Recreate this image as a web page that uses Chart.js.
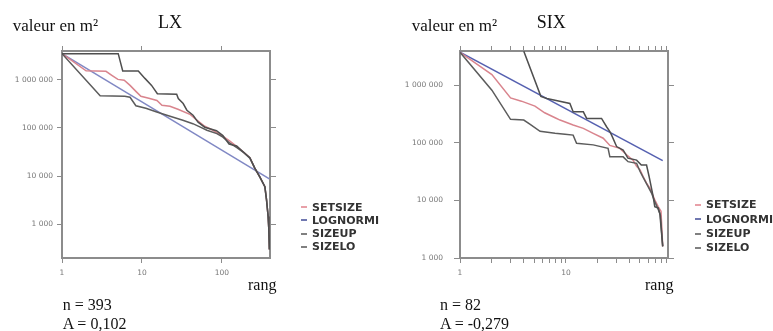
<!DOCTYPE html>
<html><head><meta charset="utf-8">
<script src="https://cdn.jsdelivr.net/npm/chart.js@4.4.0/dist/chart.umd.min.js"></script>
<style>
html,body{margin:0;padding:0;background:#fff;width:773px;height:331px;overflow:hidden;position:relative;}
canvas{position:absolute;top:0;}
.t{position:absolute;font-family:"Liberation Serif","Times New Roman",serif;font-size:16px;line-height:16px;color:#111;white-space:nowrap;}
.ttl{font-size:18px;line-height:18px;}
.big{font-size:17px;line-height:17px;}
.lg{position:absolute;font-family:"DejaVu Sans",sans-serif;font-weight:bold;font-size:11px;line-height:12px;color:#333;white-space:nowrap;}
.d{position:absolute;width:6px;height:2px;}
</style>
</head><body>
<canvas id="c1" width="390" height="331" style="left:0"></canvas>
<canvas id="c2" width="383" height="331" style="left:390px"></canvas>
<div id="txt"></div>
<script>
// ---------- DATA (rank, value in m²) ----------
const seriesNames = ['SETSIZE', 'LOGNORMI', 'SIZEUP', 'SIZELO'];

// LX panel (n = 393)
const lxSetsize = [[1,3.45e6],[2,1.52e6],[3.55,1.49e6],[4.2,1.23e6],[5,1.01e6],[6,9.7e5],[7.1,7.6e5],[8.4,5.7e5],[9.7,4.5e5],[12.2,4.1e5],[15.4,3.7e5],[17.8,2.94e5],[22.4,2.8e5],[28.2,2.43e5],[39.8,1.91e5],[48.7,1.44e5],[61,1.08e5],[77,8.9e4],[100,6.9e4],[126,5.3e4],[154,4.1e4],[188,3.1e4],[224,2.4e4],[258,1.46e4],[298,9.6e3],[345,6.0e3],[362,3.2e3],[379,1.45e3],[387,770],[390,480],[393,300]];
const lxLognorm = [[1,3.45e6],[393,8.7e3]];
const lxSizeup  = [[1,3.45e6],[5.05,3.45e6],[5.75,1.51e6],[9,1.51e6],[10.9,1.06e6],[13.2,7.6e5],[15.6,5.1e5],[27.2,4.97e5],[28.5,4.05e5],[32.8,3.19e5],[36.5,2.32e5],[43.6,1.82e5],[50.4,1.31e5],[61,1.03e5],[85.6,8.7e4],[103,6.9e4],[123,4.6e4],[153,4.2e4],[184,3.2e4],[224,2.4e4],[258,1.46e4],[298,9.6e3],[345,6.0e3],[362,3.2e3],[379,1.45e3],[387,770],[390,480],[393,300]];
const lxSizelo  = [[1,3.45e6],[3,4.62e5],[6.1,4.51e5],[7.1,4.3e5],[8.4,2.87e5],[11.2,2.55e5],[15,2.16e5],[20.5,1.83e5],[32.5,1.44e5],[43.3,1.22e5],[53,1.05e5],[65,8.9e4],[86.6,7.6e4],[103,6.4e4],[126,4.8e4],[154,3.88e4],[188,3.06e4],[224,2.35e4],[258,1.46e4],[298,9.6e3],[345,6.0e3],[362,3.2e3],[379,1.45e3],[387,770],[390,480],[393,300]];

// SIX panel (n = 82)
const sixSetsize = [[1,3.73e6],[2,1.53e6],[3,6.0e5],[3.8,5.28e5],[5.1,4.34e5],[6.3,3.32e5],[7.9,2.72e5],[8.8,2.48e5],[11.7,2.03e5],[14.6,1.78e5],[18.1,1.46e5],[22.5,1.2e5],[26,9.0e4],[32.3,8.0e4],[37.4,6.2e4],[43,5.0e4],[46.5,3.9e4],[50,3.4e4],[53.6,2.6e4],[57.7,2.0e4],[62,1.63e4],[69,1.02e4],[74.3,7.8e3],[79,6.5e3],[82,1.59e3]];
const sixLognorm = [[1,3.73e6],[82,4.9e4]];
const sixSizeup  = [[4,3.9e6],[5.8,6.4e5],[6.6,5.89e5],[7.5,5.6e5],[10.9,4.82e5],[11.7,3.45e5],[14.6,3.45e5],[15.7,2.65e5],[21.7,2.65e5],[24.2,1.9e5],[26,1.56e5],[27,1.36e5],[30.1,8.6e4],[34.7,7.5e4],[38.5,5.4e4],[46.5,5.0e4],[51.5,4.1e4],[57.7,4.1e4],[61,2.6e4],[66.6,1.17e4],[69,7.8e3],[74.3,7.4e3],[77,6.0e3],[82,1.59e3]];
const sixSizelo  = [[1,3.73e6],[2,8.2e5],[3,2.55e5],[4,2.48e5],[4.6,2.09e5],[5.7,1.58e5],[7.9,1.46e5],[9.8,1.4e5],[11.7,1.36e5],[12.6,9.8e4],[18.1,9.2e4],[25,8.0e4],[26,5.7e4],[34.7,5.7e4],[38.6,4.7e4],[46.5,4.4e4],[50,3.2e4],[53.6,2.5e4],[59.7,1.74e4],[64.3,1.34e4],[69,9.5e3],[74.3,7.0e3],[78,5.5e3],[82,1.59e3]];

// Tick values / labels
const yTickValues = [1000, 10000, 100000, 1000000];
const yTickLabels = ['1 000', '10 000', '100 000', '1 000 000'];
const lxXTickValues = [1, 10, 100];
const lxXTickLabels = ['1', '10', '100'];
const sixXTickValues = [1,2,3,4,5,6,7,8,9,10,20,30,40,50,60,70,80,90];
const sixXTickLabels = ['1','','','','','','','','','10','','','','','','','',''];

// ---------- CHARTS ----------
const BOX = '#8c8c8c';
function pts(a){ return a.map(p => ({x:p[0], y:p[1]})); }
function ds(label, data, color, order){
  return {label, data: pts(data), borderColor: color, backgroundColor: color, borderWidth: 1.5,
          pointRadius: 0, tension: 0, fill: false, order};
}
function axis(pos, min, max, tv, tl, size, tickLen, pad, showLabels){
  const horiz = (pos === 'top' || pos === 'bottom');
  return {
    type: 'logarithmic', position: pos, min, max,
    afterBuildTicks: s => { s.ticks = tv.map(v => ({value: v})); },
    afterFit: s => { if (horiz) s.height = size; else s.width = size; },
    ticks: { display: showLabels, autoSkip: false, maxRotation: 0, padding: pad, color: '#777',
             font: {family: 'DejaVu Sans', size: 7.5},
             callback: (v) => { const i = tv.indexOf(v); return i >= 0 ? tl[i] : ''; } },
    grid: { drawOnChartArea: false, drawTicks: true, tickLength: tickLen, color: BOX, lineWidth: 1 },
    border: { display: true, color: BOX, width: 2 }
  };
}
function make(id, sets, colors, xmax, ymin, xtv, xtl, yw, ylen, ypad, padRight){
  new Chart(document.getElementById(id), {
    type: 'line',
    data: { datasets: [
      ds(seriesNames[0], sets[0], colors[0], 3),
      ds(seriesNames[1], sets[1], colors[1], 4),
      ds(seriesNames[2], sets[2], colors[2], 1),
      ds(seriesNames[3], sets[3], colors[3], 2)
    ]},
    options: {
      responsive: false, animation: false, devicePixelRatio: 1,
      layout: { padding: {left: 0, right: padRight, top: 45, bottom: 53} },
      plugins: { legend: {display: false}, tooltip: {enabled: false} },
      scales: {
        x:  axis('bottom', 1, xmax, xtv, xtl, 20, 5, 6, true),
        x2: axis('top', 1, xmax, xtv, xtl, 6, 5, 0, false),
        y:  axis('left', ymin, 3.92e6, yTickValues, yTickLabels, yw, ylen, ypad, true),
        y2: axis('right', ymin, 3.92e6, yTickValues, yTickLabels, 7, 6, 0, false)
      }
    }
  });
}
make('c1', [lxSetsize, lxLognorm, lxSizeup, lxSizelo], ['#d9848d', '#8088c4', '#4f4f4f', '#5c5c5c'],
     400, 200, lxXTickValues, lxXTickLabels, 62, 5, 4, 113);
make('c2', [sixSetsize, sixLognorm, sixSizeup, sixSizelo], ['#d9848d', '#5560b0', '#4f4f4f', '#5c5c5c'],
     92, 1000, sixXTickValues, sixXTickLabels, 70, 6, 11, 98);

// ---------- TEXT ----------
const texts = [
  ['valeur en m²', 12.7, 16.8, 'big'], ['LX', 158, 13.2, 'ttl'], ['rang', 248, 276.6, ''],
  ['n = 393', 62.7, 296.6, ''], ['A = 0,102', 62.7, 315.6, ''],
  ['valeur en m²', 411.7, 16.8, 'big'], ['SIX', 536.7, 13.2, 'ttl'], ['rang', 645, 277, ''],
  ['n = 82', 440, 296.6, ''], ['A = -0,279', 440, 315.6, '']
];
const legendColors = ['#e8a0a8', '#7078b0', '#808080', '#808080'];
const txt = document.getElementById('txt');
texts.forEach(t => {
  const e = document.createElement('div'); e.className = 't ' + t[3]; e.textContent = t[0];
  e.style.left = t[1] + 'px'; e.style.top = t[2] + 'px'; txt.appendChild(e);
});
function legend(dx, tx, cy0, step){
  seriesNames.forEach((n, i) => {
    const cy = cy0 + i * step;
    const d = document.createElement('div'); d.className = 'd';
    d.style.left = dx + 'px'; d.style.top = (cy - 1) + 'px'; d.style.background = legendColors[i];
    txt.appendChild(d);
    const e = document.createElement('div'); e.className = 'lg'; e.textContent = n;
    e.style.left = tx + 'px'; e.style.top = (cy - 5.8) + 'px'; txt.appendChild(e);
  });
}
legend(301, 312, 207.3, 13.1);
legend(695, 706, 205, 14.4);
</script>
</body></html>
